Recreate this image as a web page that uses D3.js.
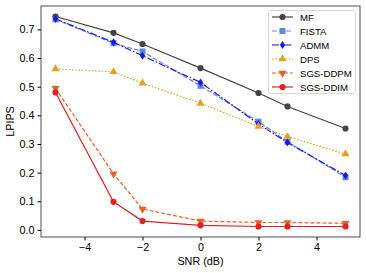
<!DOCTYPE html>
<html>
<head>
<meta charset="utf-8">
<script src="https://cdn.jsdelivr.net/npm/d3@7"></script>
<style>
  body { margin: 0; background: #fff; }
  text { font-family: "Liberation Sans", Arial, sans-serif; }
</style>
</head>
<body>
<div id="chart"></div>
<script>
const snr = [-5, -3, -2, 0, 2, 3, 5]
const mf = [0.745, 0.688, 0.649, 0.565, 0.478, 0.431, 0.354]
const fista = [0.735, 0.652, 0.623, 0.503, 0.378, 0.308, 0.184]
const admm = [0.737, 0.655, 0.608, 0.515, 0.370, 0.305, 0.190]
const dps = [0.562, 0.552, 0.512, 0.442, 0.361, 0.326, 0.265]
const ddpm = [0.494, 0.196, 0.073, 0.031, 0.026, 0.026, 0.023]
const ddim = [0.480, 0.098, 0.031, 0.016, 0.012, 0.012, 0.012]
const xTicks = [-4, -2, 0, 2, 4]
const yTicks = [0, 0.1, 0.2, 0.3, 0.4, 0.5, 0.6, 0.7]

const series = [
  { name: 'MF', values: mf, color: '#444444', dash: null, marker: 'circle', opacity: 1 },
  { name: 'FISTA', values: fista, color: '#4a74db', dash: '5,2', marker: 'square', opacity: 0.85 },
  { name: 'ADMM', values: admm, color: '#1515e6', dash: '7,2,1.5,2', marker: 'diamond', opacity: 1 },
  { name: 'DPS', values: dps, color: '#e5a023', dash: '1.5,1.8', marker: 'triangle', opacity: 1 },
  { name: 'SGS-DDPM', values: ddpm, color: '#ec5f2a', dash: '4,2', marker: 'triangleDown', opacity: 1 },
  { name: 'SGS-DDIM', values: ddim, color: '#e3221f', dash: null, marker: 'circle', opacity: 1 }
]

const width = 366
const height = 273
const margin = { left: 41, right: 6, top: 6, bottom: 36 }
const fs = 10.8

const svg = d3.select('#chart').append('svg')
  .attr('width', width)
  .attr('height', height)

const x = d3.scaleLinear().domain([-5.5, 5.5]).range([margin.left, width - margin.right])
const y = d3.scaleLinear().domain([-0.0247, 0.7817]).range([height - margin.bottom, margin.top])

// axes
svg.append('g')
  .attr('transform', `translate(0,${height - margin.bottom})`)
  .call(d3.axisBottom(x).tickValues(xTicks).tickSize(3.5).tickPadding(3)
    .tickFormat(d => d < 0 ? '\u2212' + Math.abs(d) : d))
  .call(g => g.select('.domain').remove())
  .call(g => g.selectAll('text').attr('font-size', fs).attr('fill', '#000'))

svg.append('g')
  .attr('transform', `translate(${margin.left},0)`)
  .call(d3.axisLeft(y).tickValues(yTicks).tickSize(3.5).tickPadding(3).tickFormat(d3.format('.1f')))
  .call(g => g.select('.domain').remove())
  .call(g => g.selectAll('text').attr('font-size', fs).attr('fill', '#000'))

const symbolFor = m => {
  if (m === 'circle') return d3.symbol(d3.symbolCircle, 30)
  if (m === 'square') return d3.symbol(d3.symbolSquare, 36)
  if (m === 'triangle') return d3.symbol(d3.symbolTriangle, 28)
  if (m === 'triangleDown') return d3.symbol(d3.symbolTriangle, 28)
}

const line = d3.line().x((d, i) => x(snr[i])).y(d => y(d))

function drawMarker(g, m, cx, cy, color) {
  if (m === 'diamond') {
    g.append('path')
      .attr('d', `M${cx},${cy - 4}L${cx + 2.6},${cy}L${cx},${cy + 4}L${cx - 2.6},${cy}Z`)
      .attr('fill', color)
    return
  }
  g.append('path')
    .attr('d', symbolFor(m)())
    .attr('transform', `translate(${cx},${cy})` + (m === 'triangleDown' ? ' rotate(180)' : ''))
    .attr('fill', color)
}

series.forEach(s => {
  const g = svg.append('g').attr('opacity', s.opacity)
  g.append('path')
    .datum(s.values)
    .attr('d', line)
    .attr('fill', 'none')
    .attr('stroke', s.color)
    .attr('stroke-width', 1.2)
    .attr('stroke-dasharray', s.dash)
  s.values.forEach((v, i) => drawMarker(g, s.marker, x(snr[i]), y(v), s.color))
})

// frame
svg.append('rect')
  .attr('x', margin.left)
  .attr('y', margin.top)
  .attr('width', width - margin.left - margin.right)
  .attr('height', height - margin.top - margin.bottom)
  .attr('fill', 'none')
  .attr('stroke', '#222')
  .attr('stroke-width', 0.8)

// legend
const lg = svg.append('g')
lg.append('rect')
  .attr('x', 268.5).attr('y', 10.5)
  .attr('width', 87).attr('height', 83)
  .attr('rx', 2)
  .attr('fill', '#fff').attr('fill-opacity', 0.8)
  .attr('stroke', '#ccc').attr('stroke-width', 0.8)

series.forEach((s, i) => {
  const yy = 17 + i * 14
  const g = lg.append('g').attr('opacity', s.opacity)
  g.append('line')
    .attr('x1', 272).attr('x2', 293)
    .attr('y1', yy).attr('y2', yy)
    .attr('stroke', s.color).attr('stroke-width', 1.2)
    .attr('stroke-dasharray', s.dash)
  drawMarker(g, s.marker, 282.5, yy, s.color)
  lg.append('text')
    .attr('x', 300).attr('y', yy + 3.5)
    .attr('font-size', 9.6)
    .text(s.name)
})

// axis labels
svg.append('text')
  .attr('x', x(0)).attr('y', 265)
  .attr('text-anchor', 'middle')
  .attr('font-size', fs)
  .text('SNR (dB)')

svg.append('text')
  .attr('transform', `translate(14,${(margin.top + height - margin.bottom) / 2}) rotate(-90)`)
  .attr('text-anchor', 'middle')
  .attr('font-size', fs)
  .text('LPIPS')
</script>
</body>
</html>
